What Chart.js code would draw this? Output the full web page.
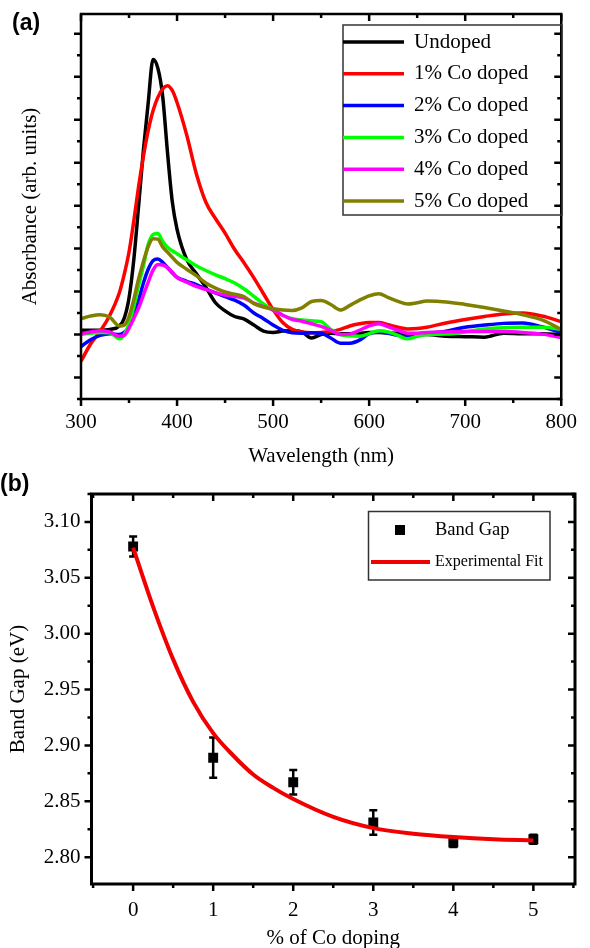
<!DOCTYPE html>
<html lang="en">
<head>
<meta charset="UTF-8">
<title>Co doped samples: absorbance and band gap</title>
<script src="https://cdn.jsdelivr.net/npm/chart.js@4.4.8/dist/chart.umd.min.js"></script>
<style>
  body { margin: 0; background: #fff; }
  canvas { position: absolute; left: 0; }
  .tag { position: absolute; font: bold 23px "Liberation Sans", Arial, sans-serif; line-height: 1; z-index: 2; }
</style>
</head>
<body>
<canvas id="absChart" width="590" height="470" style="top:0"></canvas>
<canvas id="gapChart" width="590" height="478" style="top:470px"></canvas>
<div class="tag" style="left:12px; top:11px">(a)</div>
<div class="tag" style="left:0; top:472px">(b)</div>
<script>
// (a) absorption spectra
const wavelengths = [300, 310, 320, 330, 340, 345, 350, 355, 360, 365, 370, 375, 380, 385, 390, 395, 400,
  410, 420, 430, 440, 450, 460, 470, 480, 490, 500, 510, 520, 530, 540, 550, 560, 570, 580, 590, 600,
  610, 620, 630, 640, 650, 660, 680, 700, 720, 740, 760, 780, 800];
const undoped = [0.10, 0.10, 0.10, 0.12, 0.20, 0.38, 0.85, 1.75, 3.00, 4.30, 5.40, 6.40, 6.20, 5.55, 4.25, 3.10, 2.45,
  1.75, 1.42, 1.10, 0.74, 0.55, 0.42, 0.36, 0.22, 0.08, 0.05, 0.08, 0.09, 0.06, -0.08, 0.00, 0.03, 0.02, 0.02, 0.03, 0.05,
  0.05, 0.04, 0.03, 0.00, 0.00, 0.00, -0.04, -0.05, -0.06, 0.03, 0.02, 0.02, 0.00];
const co1 = [-0.62, -0.22, 0.08, 0.45, 0.98, 1.40, 1.92, 2.65, 3.45, 4.15, 4.75, 5.21, 5.52, 5.72, 5.79, 5.68, 5.40,
  4.65, 3.75, 3.08, 2.70, 2.36, 1.98, 1.66, 1.32, 0.95, 0.58, 0.28, 0.12, 0.06, 0.04, 0.05, 0.07, 0.12, 0.20, 0.25, 0.28,
  0.28, 0.23, 0.17, 0.13, 0.14, 0.17, 0.27, 0.35, 0.42, 0.48, 0.50, 0.43, 0.30];
const co2 = [-0.28, -0.12, -0.02, 0.02, 0.00, 0.05, 0.18, 0.45, 0.80, 1.20, 1.52, 1.72, 1.76, 1.68, 1.56, 1.44, 1.33,
  1.24, 1.16, 1.06, 0.97, 0.88, 0.80, 0.68, 0.50, 0.37, 0.22, 0.10, 0.04, 0.03, 0.04, 0.03, -0.08, -0.20, -0.20, -0.13, 0.02,
  0.06, 0.03, -0.02, -0.06, -0.02, 0.02, 0.08, 0.17, 0.22, 0.26, 0.27, 0.18, 0.05];
const co3 = [0.00, 0.03, 0.05, 0.04, -0.10, 0.00, 0.25, 0.65, 1.15, 1.60, 2.10, 2.33, 2.35, 2.17, 2.03, 1.95, 1.88,
  1.74, 1.60, 1.49, 1.39, 1.30, 1.20, 1.06, 0.89, 0.71, 0.58, 0.45, 0.37, 0.34, 0.32, 0.30, 0.12, 0.00, -0.03, -0.04, 0.02,
  0.09, 0.06, -0.02, -0.10, -0.04, 0.00, 0.01, 0.06, 0.13, 0.16, 0.17, 0.17, 0.12];
const co4 = [0.02, 0.06, 0.09, 0.06, -0.04, -0.02, 0.15, 0.38, 0.62, 0.92, 1.22, 1.50, 1.63, 1.62, 1.56, 1.45, 1.33,
  1.22, 1.12, 1.05, 0.97, 0.92, 0.89, 0.85, 0.73, 0.65, 0.57, 0.45, 0.35, 0.31, 0.25, 0.19, 0.10, 0.00, 0.01, 0.10, 0.20,
  0.25, 0.18, 0.10, 0.03, 0.03, 0.05, 0.06, 0.07, 0.07, 0.07, 0.05, 0.01, -0.07];
const co5 = [0.37, 0.43, 0.46, 0.40, 0.20, 0.22, 0.42, 0.82, 1.30, 1.70, 2.05, 2.23, 2.22, 2.04, 1.92, 1.80, 1.68,
  1.52, 1.37, 1.20, 1.08, 0.99, 0.94, 0.88, 0.72, 0.64, 0.60, 0.57, 0.56, 0.62, 0.77, 0.79, 0.70, 0.57, 0.68, 0.80, 0.90,
  0.95, 0.86, 0.77, 0.71, 0.74, 0.78, 0.76, 0.70, 0.63, 0.55, 0.46, 0.34, 0.12];
const spectraLabels = ['Undoped', '1% Co doped', '2% Co doped', '3% Co doped', '4% Co doped', '5% Co doped'];
const spectraColors = ['#000000', '#ff0000', '#0000ff', '#00ff00', '#ff00ff', '#808000'];
const wavelengthTicks = [300, 400, 500, 600, 700, 800];
const absorbanceTicks = [-1, 0, 1, 2, 3, 4, 5, 6, 7];

// (b) band gap against doping
const dopingLevels = [0, 1, 2, 3, 4, 5];
const bandGap = [3.078, 2.889, 2.867, 2.831, 2.813, 2.816];
const bandGapErr = [0.009, 0.018, 0.011, 0.011, 0.004, 0.004];
const fitDoping = [0, 0.25, 0.5, 0.75, 1, 1.25, 1.5, 1.75, 2, 2.5, 3, 3.5, 4, 4.5, 5];
const fitGap = [3.077, 3.024, 2.977, 2.939, 2.911, 2.891, 2.874, 2.862, 2.852, 2.836, 2.826, 2.821, 2.818, 2.816, 2.815];
const dopingTicks = [0, 1, 2, 3, 4, 5];
const gapTicks = [2.80, 2.85, 2.90, 2.95, 3.00, 3.05, 3.10];

const SERIF = '"Liberation Serif", "Times New Roman", serif';
const pts = (xs, ys) => ys.map((y, i) => ({ x: xs[i], y }));
const useTicks = values => scale => { scale.ticks = values.map(v => ({ value: v })); };

// frame round the plot area, major + minor ticks out on left/bottom, in on top/right
const frameTicks = {
  id: 'frameTicks',
  afterDatasetsDraw(chart, args, opts) {
    const { ctx, chartArea: a, scales } = chart;
    ctx.save();
    ctx.strokeStyle = '#000';
    ctx.lineWidth = opts.frameWidth;
    ctx.strokeRect(a.left, a.top, a.right - a.left, a.bottom - a.top);
    ctx.lineWidth = opts.tickWidth;
    for (const id of ['x', 'y']) {
      const s = scales[id];
      const major = s.ticks.map(t => t.value);
      const step = major[1] - major[0];
      const marks = major.map(v => [v, opts.major]);
      for (let v = major[0] - step / 2; v <= s.max + 1e-9; v += step) {
        if (v >= s.min - 1e-9) marks.push([v, opts.minor]);
      }
      for (const [v, len] of marks) {
        const p = s.getPixelForValue(v);
        ctx.beginPath();
        if (id === 'x') {
          ctx.moveTo(p, a.bottom); ctx.lineTo(p, a.bottom + len);
          ctx.moveTo(p, a.top); ctx.lineTo(p, a.top + len);
        } else {
          ctx.moveTo(a.left, p); ctx.lineTo(a.left - len, p);
          ctx.moveTo(a.right, p); ctx.lineTo(a.right - len, p);
        }
        ctx.stroke();
      }
    }
    ctx.restore();
  }
};

// boxed legend inside the plot
const boxLegend = {
  id: 'boxLegend',
  afterDraw(chart, args, o) {
    const { ctx } = chart;
    ctx.save();
    ctx.strokeStyle = '#333';
    ctx.lineWidth = 1.5;
    ctx.strokeRect(o.left, o.top, o.width, o.height);
    ctx.textBaseline = 'middle';
    ctx.fillStyle = '#000';
    o.rows.forEach((r, i) => {
      const ds = chart.data.datasets[r.dataset];
      const y = o.firstRow + i * o.rowStep;
      if (r.marker) {
        ctx.fillStyle = ds.backgroundColor;
        ctx.fillRect(r.markerX - 5, y - 5, 10, 10);
      } else {
        ctx.strokeStyle = ds.borderColor;
        ctx.lineWidth = r.lineWidth;
        ctx.beginPath();
        ctx.moveTo(r.lineFrom, y);
        ctx.lineTo(r.lineTo, y);
        ctx.stroke();
      }
      ctx.fillStyle = '#000';
      ctx.font = r.size + 'px ' + SERIF;
      ctx.fillText(ds.label, o.textX, y);
    });
    ctx.restore();
  }
};

// vertical error bars with caps for the band gap points
const errorBars = {
  id: 'errorBars',
  beforeDatasetsDraw(chart) {
    const { ctx, scales: { x, y } } = chart;
    ctx.save();
    ctx.strokeStyle = '#000';
    ctx.lineWidth = 2.5;
    dopingLevels.forEach((d, i) => {
      const px = x.getPixelForValue(d);
      const hi = y.getPixelForValue(bandGap[i] + bandGapErr[i]);
      const lo = y.getPixelForValue(bandGap[i] - bandGapErr[i]);
      ctx.beginPath();
      ctx.moveTo(px, hi); ctx.lineTo(px, lo);
      ctx.moveTo(px - 4, hi); ctx.lineTo(px + 4, hi);
      ctx.moveTo(px - 4, lo); ctx.lineTo(px + 4, lo);
      ctx.stroke();
    });
    ctx.restore();
  }
};

Chart.defaults.font.family = SERIF;
Chart.defaults.color = '#000';

new Chart(document.getElementById('absChart'), {
  type: 'line',
  data: {
    datasets: [undoped, co1, co2, co3, co4, co5].map((vals, i) => ({
      label: spectraLabels[i],
      data: pts(wavelengths, vals),
      borderColor: spectraColors[i],
      borderWidth: 3.5,
      pointRadius: 0,
      cubicInterpolationMode: 'monotone',
      order: -i
    }))
  },
  options: {
    responsive: false,
    animation: false,
    devicePixelRatio: 1,
    layout: { padding: { top: 14, right: 15, left: 0, bottom: 0 } },
    plugins: {
      legend: { display: false },
      tooltip: { enabled: false },
      frameTicks: { frameWidth: 2.5, tickWidth: 2.5, major: 7, minor: 4 },
      boxLegend: {
        left: 343, top: 25, width: 219, height: 190, firstRow: 42, rowStep: 31.8, textX: 414,
        rows: [0, 1, 2, 3, 4, 5].map(i => ({ dataset: i, lineFrom: 343, lineTo: 404, lineWidth: 3.5, size: 21 }))
      }
    },
    scales: {
      x: {
        type: 'linear', min: 300, max: 800,
        afterBuildTicks: useTicks(wavelengthTicks),
        afterFit: s => { s.height = 71; },
        grid: { display: false, drawTicks: false },
        border: { display: false },
        ticks: { padding: 13, font: { size: 21, lineHeight: 1 } },
        title: { display: true, text: 'Wavelength (nm)', font: { size: 21, lineHeight: 1 }, padding: { top: 0, bottom: 3 } }
      },
      y: {
        type: 'linear', min: -1.5, max: 7.46,
        afterBuildTicks: useTicks(absorbanceTicks),
        afterFit: s => { s.width = 81; },
        grid: { display: false, drawTicks: false },
        border: { display: false },
        ticks: { display: false },
        title: { display: true, text: 'Absorbance (arb. units)', font: { size: 21, lineHeight: 1 }, padding: { top: 20, bottom: 0 } }
      }
    }
  },
  plugins: [frameTicks, boxLegend]
});

new Chart(document.getElementById('gapChart'), {
  type: 'line',
  data: {
    datasets: [
      {
        label: 'Band Gap',
        data: pts(dopingLevels, bandGap),
        showLine: false,
        pointStyle: 'rect',
        pointRadius: 7,
        backgroundColor: '#000',
        borderColor: '#000',
        borderWidth: 0,
        order: 1
      },
      {
        label: 'Experimental Fit',
        data: pts(fitDoping, fitGap),
        borderColor: '#f00000',
        borderWidth: 4,
        pointRadius: 0,
        cubicInterpolationMode: 'monotone',
        order: 0
      }
    ]
  },
  options: {
    responsive: false,
    animation: false,
    devicePixelRatio: 1,
    layout: { padding: { top: 24, right: 15, left: 0, bottom: 0 } },
    plugins: {
      legend: { display: false },
      tooltip: { enabled: false },
      frameTicks: { frameWidth: 3, tickWidth: 2.5, major: 7, minor: 4 },
      boxLegend: {
        left: 368.5, top: 41.5, width: 181.5, height: 68.5, firstRow: 60, rowStep: 32, textX: 435,
        rows: [
          { dataset: 0, marker: true, markerX: 400, size: 18.5 },
          { dataset: 1, lineFrom: 371, lineTo: 430, lineWidth: 4, size: 16 }
        ]
      }
    },
    scales: {
      x: {
        type: 'linear', min: -0.52, max: 5.52,
        afterBuildTicks: useTicks(dopingTicks),
        afterFit: s => { s.height = 64; },
        grid: { display: false, drawTicks: false },
        border: { display: false },
        ticks: { padding: 16, font: { size: 21, lineHeight: 1 } },
        title: { display: true, text: '% of Co doping', font: { size: 21, lineHeight: 1 }, padding: { top: 0, bottom: -1 } }
      },
      y: {
        type: 'linear', min: 2.776, max: 3.125,
        afterBuildTicks: useTicks(gapTicks),
        afterFit: s => { s.width = 91.5; },
        grid: { display: false, drawTicks: false },
        border: { display: false },
        ticks: { padding: 11, font: { size: 21, lineHeight: 1 }, callback: v => v.toFixed(2) },
        title: { display: true, text: 'Band Gap (eV)', font: { size: 21, lineHeight: 1 }, padding: { top: 8, bottom: 0 } }
      }
    }
  },
  plugins: [errorBars, frameTicks, boxLegend]
});
</script>
</body>
</html>
